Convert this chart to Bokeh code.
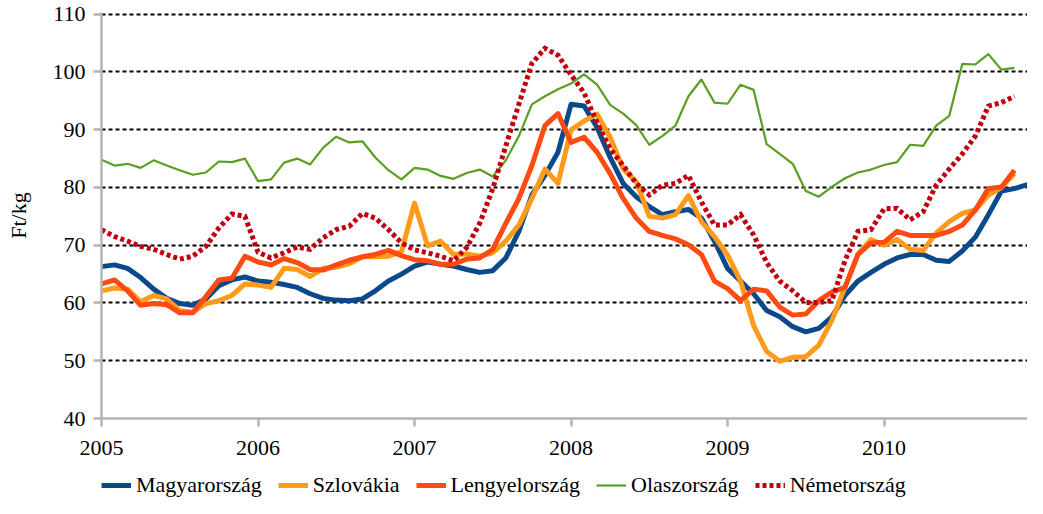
from bokeh.plotting import figure
from bokeh.layouts import column
from bokeh.models import Range1d, FixedTicker, Legend, LegendItem
from bokeh.embed import file_html
from bokeh.resources import INLINE

# Monthly prices, Ft/kg, January 2005 onwards
magyarorszag = [66.3, 66.6, 66.0, 64.4, 62.4, 60.8, 59.9, 59.6, 60.7, 63.0, 64.0, 64.5,
                63.8, 63.6, 63.2, 62.7, 61.6, 60.8, 60.5, 60.4, 60.7, 62.1, 63.8, 65.0,
                66.4, 67.1, 66.7, 66.4, 65.8, 65.3, 65.6, 67.8, 72.4, 78.7, 82.1, 86.1,
                94.4, 94.1, 90.4, 85.2, 80.7, 78.4, 76.7, 75.3, 75.8, 76.2, 74.7, 70.7,
                66.0, 63.8, 61.6, 58.7, 57.6, 55.9, 55.0, 55.6, 57.6, 61.3, 63.8, 65.3,
                66.7, 67.8, 68.4, 68.4, 67.4, 67.2, 69.0, 71.4, 75.3, 79.4, 79.8, 80.5]
szlovakia = [62.1, 62.6, 62.4, 60.2, 61.3, 60.7, 58.7, 58.4, 59.9, 60.4, 61.3, 63.3,
             63.1, 62.7, 66.0, 65.8, 64.6, 66.0, 66.2, 66.8, 68.0, 68.0, 68.1, 68.9,
             77.3, 69.9, 70.7, 68.4, 68.5, 68.1, 68.7, 70.7, 73.5, 78.1, 83.2, 80.7,
             90.0, 91.5, 92.7, 88.7, 83.2, 81.0, 75.0, 74.7, 75.3, 78.6, 74.1, 71.5,
             68.3, 63.8, 56.1, 51.6, 49.9, 50.6, 50.7, 52.7, 57.0, 62.7, 68.4, 71.0,
             70.0, 71.0, 69.3, 69.1, 72.1, 74.1, 75.5, 76.1, 78.7, 80.0, 82.4]
lengyelorszag = [63.3, 64.0, 62.1, 59.6, 59.9, 59.7, 58.3, 58.3, 61.1, 64.0, 64.3, 68.1,
                 67.1, 66.6, 67.7, 67.0, 65.8, 65.7, 66.6, 67.4, 68.0, 68.4, 69.1, 68.2,
                 67.5, 67.3, 66.7, 66.7, 67.6, 67.8, 69.3, 73.8, 78.1, 83.8, 90.7, 92.8,
                 87.8, 88.7, 86.1, 82.4, 78.1, 74.7, 72.4, 71.7, 71.1, 70.1, 68.4, 63.8,
                 62.5, 60.4, 62.4, 62.1, 59.3, 57.9, 58.1, 60.4, 61.9, 62.7, 68.4, 70.4,
                 70.5, 72.4, 71.7, 71.7, 71.7, 72.4, 73.5, 76.1, 79.8, 80.1, 83.0]
olaszorszag = [84.8, 83.8, 84.1, 83.4, 84.7, 83.8, 83.0, 82.2, 82.6, 84.5, 84.4, 85.0,
               81.1, 81.4, 84.3, 85.0, 84.0, 86.9, 88.8, 87.8, 88.0, 85.2, 83.0, 81.4,
               83.4, 83.1, 82.0, 81.5, 82.5, 83.1, 81.9, 84.7, 88.9, 94.4, 95.8, 97.0,
               98.0, 99.6, 97.8, 94.3, 92.8, 90.8, 87.4, 88.9, 90.7, 95.8, 98.7, 94.7,
               94.5, 97.8, 96.9, 87.5, 85.8, 84.1, 79.4, 78.4, 80.1, 81.6, 82.6, 83.1,
               83.9, 84.4, 87.4, 87.2, 90.7, 92.4, 101.4, 101.3, 103.1, 100.4, 100.7]
nemetorszag = [72.7, 71.5, 70.7, 69.8, 69.3, 68.4, 67.6, 68.1, 69.8, 73.0, 75.4, 75.0,
               68.8, 67.8, 68.7, 69.7, 69.3, 71.3, 72.7, 73.3, 75.5, 74.7, 72.7, 70.4,
               69.2, 68.7, 68.1, 67.3, 69.6, 73.8, 79.8, 87.2, 94.4, 101.5, 104.1, 102.9,
               99.5, 96.4, 91.2, 86.7, 83.8, 80.7, 78.7, 80.4, 80.7, 82.1, 77.5, 73.5,
               73.5, 75.3, 71.8, 67.0, 63.8, 62.1, 60.1, 60.1, 60.4, 67.3, 72.4, 72.7,
               76.3, 76.4, 74.4, 75.8, 80.4, 83.2, 85.8, 88.9, 94.1, 94.7, 95.8]

series_names = ["Magyarország", "Szlovákia", "Lengyelország", "Olaszország", "Németország"]
year_ticks = [2005, 2006, 2007, 2008, 2009, 2010]
y_ticks = [40, 50, 60, 70, 80, 90, 100, 110]

start_year = 2005
months = [start_year + i / 12 for i in range(len(magyarorszag))]

FONT = "Liberation Serif"
FS = "22px"
AXIS_GRAY = "#b4b4b4"

p = figure(width=1027, height=470, output_backend="svg", toolbar_location=None,
           x_range=Range1d(start_year, months[-1]), y_range=Range1d(40, 110.3),
           min_border_left=101, min_border_right=0, min_border_top=12, min_border_bottom=52)
p.outline_line_color = None
p.background_fill_color = "white"
p.border_fill_color = "white"

# grid
p.xgrid.visible = False
p.ygrid.ticker = FixedTicker(ticks=[t for t in y_ticks if t > 40])
p.ygrid.grid_line_color = "black"
p.ygrid.grid_line_dash = "4 3"
p.ygrid.grid_line_width = 2

# axes
p.xaxis.ticker = FixedTicker(ticks=year_ticks)
p.xaxis.major_label_overrides = {y: str(y) for y in year_ticks}
p.yaxis.ticker = FixedTicker(ticks=y_ticks)
for ax in (p.xaxis[0], p.yaxis[0]):
    ax.axis_line_color = AXIS_GRAY
    ax.axis_line_width = 2.5
    ax.major_tick_line_color = AXIS_GRAY
    ax.major_tick_line_width = 2.5
    ax.major_tick_in = 0
    ax.major_tick_out = 8
    ax.minor_tick_line_color = None
    ax.major_label_text_font = FONT
    ax.major_label_text_font_size = FS
    ax.major_label_text_color = "black"
p.xaxis.major_label_standoff = 14
p.yaxis.major_label_standoff = 8
p.yaxis.axis_label = "Ft/kg"
p.yaxis.axis_label_text_font = FONT
p.yaxis.axis_label_text_font_size = FS
p.yaxis.axis_label_text_font_style = "normal"
p.yaxis.axis_label_text_color = "black"
p.yaxis.axis_label_standoff = 19

# lines
colors = ["#0b4a8a", "#ff9a1a", "#ff4a12", "#5a9e22", "#c0000e"]
data = [magyarorszag, szlovakia, lengyelorszag, olaszorszag, nemetorszag]
widths = [5, 5, 5, 2.2, 5]

def style(name, col, w):
    kw = dict(line_color=col, line_width=w, line_join="round")
    if name == "Németország":
        kw["line_dash"] = "4 3"
        kw["line_join"] = "miter"
    return kw

for vals, col, w, name in zip(data, colors, widths, series_names):
    p.line(months[:len(vals)], vals, **style(name, col, w))

# legend strip below the chart (proxy renderers lie outside its visible range)
lg = figure(width=1027, height=28, output_backend="svg", toolbar_location=None,
            x_range=Range1d(0, 1), y_range=Range1d(0, 1),
            x_axis_type=None, y_axis_type=None,
            min_border_left=0, min_border_right=0, min_border_top=0, min_border_bottom=0)
lg.outline_line_color = None
lg.xgrid.visible = False
lg.ygrid.visible = False
leg_renderers = []
for col, w, name in zip(colors, widths, series_names):
    leg_renderers.append(lg.line([5, 6], [5, 6], **style(name, col, w)))

legend = Legend(items=[LegendItem(label=n, renderers=[r]) for n, r in zip(series_names, leg_renderers)],
                orientation="horizontal", location=(0, 0),
                label_text_font=FONT, label_text_font_size=FS, label_text_color="black",
                glyph_width=30, glyph_height=20, label_standoff=5, spacing=16,
                padding=0, margin=0, border_line_color=None, background_fill_alpha=0)
lg.add_layout(legend, "center")

layout = column(p, lg, spacing=0)
open("out.html", "w").write(file_html(layout, INLINE))
